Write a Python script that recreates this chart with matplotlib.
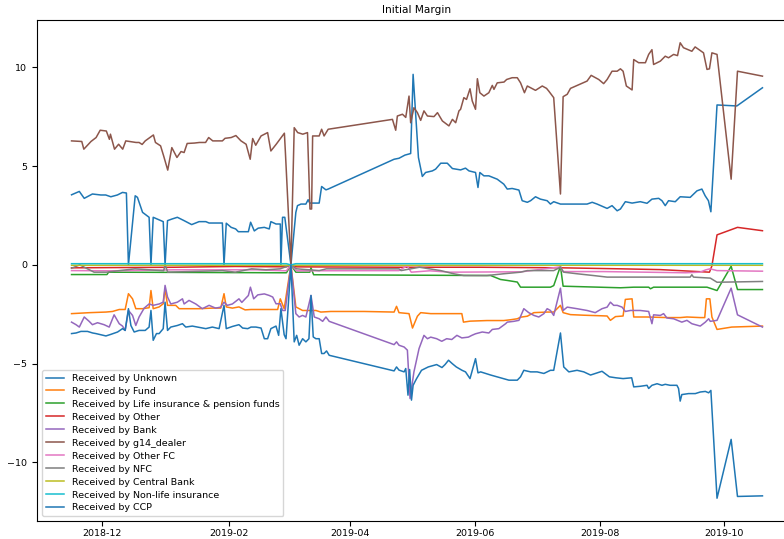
import matplotlib
matplotlib.use("Agg")
import matplotlib.pyplot as plt
import matplotlib.dates as mdates
import pandas as pd

START = "2018-11-16"

unknown_days = [0, 3.8, 6.2, 10.2, 14.3, 16.7, 19.2, 22.4, 24.9, 26.8, 27.8, 31.1, 32.2, 34.7, 37.9, 38.8, 39.9,
                44.8, 45.7, 46.9, 49, 51.7, 55, 58.7, 62.3, 65.6, 67.2, 73.7, 74.5, 75.6, 78, 80.2, 81.5, 86.4,
                87.5, 89.3, 91.2, 94.2, 96.6, 97.4, 99.9, 102, 102.3, 103.1, 104.2, 107.2, 109.6, 110.4, 112.1,
                114.5, 115.6, 116.4, 121, 122.2, 124.3, 125.4, 157.6, 160, 162.9, 165.7, 166.9, 169.5, 171.4,
                173, 176.3, 177.9, 180.4, 183.6, 186.1, 190.1, 192.5, 194.2, 197.4, 198.6, 199.5, 201.5, 203.9,
                208, 211.2, 212.9, 215.3, 218.6, 220.2, 222.7, 224.3, 226.7, 229.1, 232.4, 234, 235.6, 238.9,
                245.4, 251.9, 254.4, 256.8, 261.7, 264.1, 266.6, 268.2, 270.6, 273.9, 277.9, 281.2, 283.6,
                286.9, 288.5, 290.1, 291.7, 295, 297.4, 302.3, 305.6, 308, 309.6, 311.2, 312.4, 315.4, 325.1,
                337.6]
unknown_vals = [3.55, 3.72, 3.37, 3.59, 3.54, 3.54, 3.45, 3.54, 3.67, 3.64, 0.0, 3.5, 3.42, 2.66, 2.41, 0.0, 2.41,
                2.19, 0.0, 2.24, 2.32, 2.41, 2.24, 2.04, 2.19, 2.19, 2.12, 2.12, 0.0, 2.11, 1.9, 1.82, 1.68, 1.68,
                2.16, 1.72, 1.86, 1.9, 1.82, 2.19, 2.07, 2.07, 0.0, 2.41, 2.41, 0.0, 2.66, 3.0, 3.08,
                3.08, 3.3, 3.13, 3.13, 3.97, 3.8, 3.84, 5.35, 5.4, 5.56, 5.64, 9.65, 5.44, 4.48,
                4.68, 4.76, 4.85, 5.15, 5.15, 4.88, 4.81, 4.9, 4.76, 4.68, 3.92, 4.68, 4.51, 4.51,
                4.34, 4.09, 3.84, 3.87, 3.79, 3.25, 3.17, 3.25, 3.45, 3.33, 3.25, 3.08, 3.2, 3.08,
                3.08, 3.08, 3.17, 3.08, 2.86, 3.0, 2.74, 2.83, 3.2, 3.13, 3.2, 3.12, 3.33,
                3.37, 3.25, 3.0, 3.25, 3.2, 3.45, 3.42, 3.75, 3.84, 3.5, 3.25, 2.69, 8.1, 8.05,
                8.97]

fund_days = [0, 8.9, 16.8, 20, 23.3, 26.2, 27.8, 29.8, 31.4, 34.7, 37.9, 38.8, 39.9, 42.8, 44.8, 45.7, 46.9,
             50.9, 52.6, 62.3, 68.8, 72.9, 74.5, 75.6, 78.6, 81.8, 84.8, 87.7, 94.2, 100.7, 102, 103.9, 107.2,
             109.6, 112.9, 116.9, 119.4, 121.8, 126.7, 143, 157.6, 158.8, 160, 164.9, 166.6, 169, 170.6, 175.5,
             188.3, 190.7, 191.5, 194.8, 203, 211.2, 214.5, 217.8, 219.4, 222.7, 225.9, 232.4, 235.6, 238.9,
             240.2, 243.8, 250.3, 259.2, 261.7, 263.3, 265.8, 269.5, 270.6, 273.9, 274.7, 281.2, 291, 297.4,
             300.7, 307.2, 309.4, 310.2, 311.9, 312.9, 315.4, 322.6, 337.6]
fund_vals = [-2.47, -2.42, -2.39, -2.36, -2.26, -2.26, -1.46, -1.72, -2.22, -2.22, -2.17, -1.3, -2.22, -2.13, -1.97,
             -1.21, -2.05, -2.05, -2.22, -2.22, -2.19, -2.19, -1.46, -2.13, -2.19, -2.13, -2.28, -2.26, -2.26,
             -2.26, -1.72, -2.22, 0.0, -2.13, -2.31, -2.31, -2.31, -2.39, -2.36, -2.36, -2.39, -2.1, -2.42,
             -2.47, -3.2, -2.6, -2.42, -2.47, -2.47, -2.47, -2.9, -2.85, -2.82, -2.82, -2.78, -2.73, -2.65,
             -2.6, -2.42, -2.39, -2.39, -2.05, -2.42, -2.52, -2.55, -2.58, -2.59, -2.81, -2.62, -2.59, -1.75,
             -1.72, -2.64, -2.64, -2.67, -2.67, -2.64, -2.67, -2.67, -1.72, -1.72, -2.64, -3.27, -3.15, -3.1]

life_days = [0, 17.3, 18.1, 105, 107.2, 109.6, 116.4, 117, 118.3, 204.8, 209.6, 213, 217.8, 219.4, 234, 235.6,
             238.9, 240.2, 268.2, 274.7, 282, 282.9, 284.4, 310.5, 315.4, 322.3, 325.4, 337.6]
life_vals = [-0.49, -0.49, -0.37, -0.4, 0.0, -0.37, -0.37, -0.15, -0.5, -0.54, -0.74, -0.79, -0.87, -1.13, -1.13,
             -1.05, -0.07, -1.08, -1.16, -1.13, -1.13, -1.21, -1.13, -1.13, -1.3, -0.07, -1.25, -1.25]

other_days = [0, 50, 80, 105, 107.2, 110, 160, 200, 240, 268, 287.7, 311.7, 312.9, 315.4, 325.4, 337.6]
other_vals = [-0.15, -0.12, -0.08, -0.1, 0.0, -0.1, -0.12, -0.12, -0.15, -0.2, -0.24, -0.37, -0.05, 1.52, 1.9,
              1.73]

bank_days = [0, 2.2, 3.8, 6.2, 8.6, 10.2, 12.7, 15.9, 18.4, 20.8, 23.3, 24.9, 26.2, 27.8, 29.8, 31.4, 33, 35.5,
             37.9, 39.9, 42.8, 44.8, 45.7, 46.9, 48.5, 51.7, 54.2, 55, 57.4, 60.7, 63.9, 67.2, 70.4, 72.9, 74.5,
             76.1, 78.6, 81.8, 83.2, 86.4, 87.4, 89, 91, 94.2, 96.6, 98.3, 99.9, 102, 103.1, 104.4, 107.2,
             109.6, 111.2, 112.9, 114.5, 117, 118.6, 121, 122.7, 124.3, 125.9, 157.6, 158.8, 160, 162.5,
             164.1, 165.4, 167.3, 169.8, 172.2, 173.9, 175.5, 178.4, 180.9, 183.3, 185.8, 188.3, 190.7,
             193.9, 195.6, 197.4, 200.7, 203.9, 205.6, 208.8, 212.1, 212.9, 216.1, 218.6, 221, 223.4, 225.9,
             228.3, 230.8, 232.4, 234, 235.6, 238.9, 240.2, 242.2, 247, 251.9, 255.9, 259.2, 261.7, 263.3,
             264.9, 266.6, 269, 270.6, 273.1, 277.9, 282, 283.6, 284.4, 287.7, 289.3, 290.9, 294.2, 298.2,
             300.7, 303.1, 307.2, 309.7, 311.3, 312.1, 315.4, 322.3, 325.4, 337.6]
bank_vals = [-2.9, -3.03, -3.15, -2.64, -2.86, -3.03, -2.93, -3.03, -3.15, -2.53, -2.98, -3.1, -3.32, -2.31, -2.56,
             -3.07, -2.64, -2.19, -1.98, -2.05, -1.98, -1.89, -1.04, -1.63, -1.98, -1.89, -1.72, -1.98, -1.8,
             -1.98, -2.22, -2.05, -2.19, -2.14, -1.89, -2.05, -1.98, -1.72, -1.9, -1.55, -1.13, -1.72, -1.52,
             -1.47, -1.55, -1.63, -1.97, -1.97, -2.31, -2.31, 0.0, -2.47, -2.64, -2.56, -2.64, -1.55, -2.64,
             -2.73, -2.86, -2.64, -2.86, -4.04, -3.9, -4.07, -4.16, -4.32, -6.77, -5.42, -4.24, -3.57, -3.74,
             -3.66, -3.74, -3.87, -3.74, -3.78, -3.57, -3.7, -3.66, -3.57, -3.49, -3.4, -3.45, -3.27, -3.23,
             -2.98, -2.9, -2.86, -2.81, -2.22, -2.42, -2.56, -2.64, -2.47, -2.22, -2.31, -2.56, -1.18, -2.31,
             -2.14, -2.22, -2.31, -2.42, -2.22, -2.14, -1.89, -2.05, -2.05, -2.14, -2.36, -2.31, -2.31, -2.36,
             -2.98, -2.53, -2.56, -2.47, -2.69, -2.73, -2.9, -2.81, -2.98, -3.1, -2.9, -2.73, -2.86, -2.81,
             -1.18, -2.53, -3.15]

g14_days = [0, 5, 6, 9.5, 12, 14, 17, 18.5, 19, 21, 23, 25, 26.5, 31.5, 33, 34.5, 36, 40, 41, 43.5, 45, 47, 49,
            51.5, 53.5, 55, 56.5, 60, 62.5, 65.5, 67, 69, 73.7, 75, 78, 80.3, 82.8, 85.3, 87.3, 88.5, 90, 92.6,
            95.8, 97.4, 100, 104, 104.5, 107.2, 108.8, 110.5, 113, 115.3, 116.5, 117.3, 117.8, 121, 122.2,
            123.4, 125.4, 156.8, 158.4, 159.2, 161.7, 163.3, 164.9, 165.7, 167.3, 169, 170.6, 172.2, 173.9,
            177.1, 178.8, 181.2, 184.4, 186.1, 187.7, 189.3, 190.1, 191.7, 193, 194.7, 195.8, 197.4, 198.3,
            199.5, 201.5, 203.9, 205.6, 206.4, 208, 211.3, 212.6, 215.3, 217.8, 219.4, 221.3, 222.7, 226.7,
            230, 232.1, 233.2, 235.6, 238.9, 240.2, 242.2, 243.8, 251.9, 253.9, 257.6, 260, 261.7, 264.1,
            266.6, 268.2, 269.5, 271.1, 273.9, 274.7, 277.1, 280.4, 282, 283.6, 284.4, 287.7, 290.1, 291.7,
            294.2, 296.1, 297.4, 299, 303.1, 304.7, 308.8, 310.5, 311.7, 312.9, 315.4, 322.3, 325.4, 337.6]
g14_vals = [6.28, 6.25, 5.86, 6.25, 6.45, 6.82, 6.78, 6.36, 6.62, 5.86, 6.11, 5.86, 6.28, 6.2, 6.2, 6.1, 6.28,
            6.58, 6.2, 6.03, 5.52, 4.8, 5.94, 5.44, 5.74, 5.69, 6.15, 6.17, 6.2, 6.2, 6.45, 6.28, 6.28, 6.41,
            6.45, 6.55, 6.28, 6.11, 5.35, 6.4, 6.06, 6.53, 6.7, 5.77, 6.11, 6.67, 5.69, 0.0, 6.95, 6.7, 6.62,
            6.7, 2.83, 2.83, 6.53, 6.53, 6.87, 6.53, 6.87, 7.37, 6.82, 7.54, 7.63, 7.47, 8.55, 7.2, 7.96, 7.71,
            7.32, 7.8, 7.54, 7.51, 7.71, 7.29, 7.04, 7.37, 7.2, 7.8, 7.88, 8.47, 8.38, 8.92, 8.3, 7.88, 9.43,
            8.72, 8.55, 8.72, 9.09, 8.89, 9.22, 9.26, 9.39, 9.48, 9.48, 9.22, 8.72, 9.06, 8.84, 9.06, 8.94,
            8.8, 8.47, 3.59, 8.52, 8.64, 8.94, 9.31, 9.6, 9.39, 9.18, 9.39, 9.81, 9.81, 9.93, 9.81, 9.06,
            8.86, 10.4, 10.24, 10.24, 10.66, 10.9, 10.15, 10.32, 10.57, 10.49, 10.66, 10.6, 11.25, 11.0,
            10.82, 11.04, 10.74, 9.9, 9.93, 10.74, 10.66, 4.34, 9.81, 9.56]

otherfc_days = [0, 20, 50, 90, 105, 107.2, 110, 160, 164, 166, 175, 185, 220, 238.9, 240, 260, 300, 307, 310,
                312, 315.4, 337.6]
otherfc_vals = [-0.29, -0.3, -0.25, -0.25, -0.3, 0.0, -0.3, -0.29, -0.05, -0.37, -0.3, -0.37, -0.35, -0.1,
                -0.34, -0.34, -0.4, -0.37, -0.25, -0.2, -0.29, -0.32]

nfc_days = [0, 4, 11, 17, 31, 45, 45.7, 47, 73.7, 80, 88, 95, 102, 107.2, 110, 121, 124.5, 160, 161, 170, 180.4,
            186.7, 191.6, 203, 211.2, 219.4, 222.7, 235.6, 238.9, 240.5, 247, 255, 261.7, 302.3, 303.1, 303.9,
            312.1, 315.4, 337.6]
nfc_vals = [-0.17, 0.0, -0.37, -0.37, -0.2, -0.3, 0.0, -0.37, -0.29, -0.37, -0.2, -0.25, -0.2, 0.0, -0.2, -0.29,
            -0.2, -0.2, -0.29, -0.12, -0.29, -0.45, -0.54, -0.54, -0.45, -0.37, -0.29, -0.29, -0.12, -0.37,
            -0.45, -0.54, -0.62, -0.62, -0.5, -0.62, -0.67, -0.88, -0.84]

central_days = [0, 105, 107.2, 109.6, 337.6]
central_vals = [-0.02, -0.02, 0.0, -0.02, -0.02]

nonlife_days = [0, 105, 107.2, 109.6, 337.6]
nonlife_vals = [0.06, 0.06, 0.0, 0.06, 0.06]

ccp_days = [0, 2.2, 4.6, 7.8, 10.3, 11.9, 13.5, 16.8, 19.2, 22.5, 24.9, 26.2, 27.8, 29, 30.6, 33, 36, 37.9, 38.8,
            39.9, 41.5, 42.8, 44.8, 45.7, 46.9, 48.5, 51.7, 54.2, 55.8, 59, 61.5, 65.6, 68.8, 72.1, 74.5, 75.6,
            78.6, 81.8, 83.6, 86.1, 87.7, 90.1, 92.6, 94.2, 95.8, 97.4, 99.9, 101.2, 102.3, 103.9, 104.8, 107.2,
            108.8, 110, 111.2, 112.9, 114.5, 116, 117, 118.1, 119.4, 121, 122.2, 123.4, 124.6, 125.9, 157.6,
            158.8, 160, 162.5, 163.3, 164.4, 165.2, 166.1, 166.9, 168.6, 171, 174.3, 176.7, 178.4, 181, 182.5,
            184.2, 186, 188, 190.8, 192.5, 194.7, 197.4, 198.6, 199.9, 202.3, 204.8, 209.7, 213.7, 217.8,
            219.4, 221, 224.3, 227.5, 230.8, 234, 235.6, 238.9, 240.5, 243, 247, 250.3, 253.6, 259.2, 262.8,
            266, 269.5, 273.7, 274.7, 277.9, 281.2, 282, 283.6, 286.1, 288.5, 290.1, 292.5, 295.8, 296.6,
            297.4, 298.2, 301.5, 304.8, 307.2, 309.7, 311.3, 312.4, 315.4, 322.3, 325.4, 337.6]
ccp_vals = [-3.48, -3.45, -3.37, -3.37, -3.45, -3.48, -3.52, -3.6, -3.52, -3.4, -3.23, -3.32, -2.22, -3.07, -3.4,
            -3.32, -3.32, -3.15, -2.31, -3.82, -3.48, -3.48, -3.23, -1.89, -3.32, -3.15, -3.07, -2.98, -3.15,
            -3.1, -3.15, -3.23, -3.15, -3.23, -2.05, -3.23, -3.12, -3.03, -3.2, -3.23, -3.15, -3.15, -3.2,
            -3.74, -3.74, -3.23, -3.1, -3.57, -2.22, -3.54, -3.74, 0.0, -3.9, -3.57, -4.07, -3.74, -3.9, -3.74,
            -1.55, -3.65, -3.74, -3.74, -4.49, -4.49, -4.36, -4.58, -5.37, -5.17, -5.33, -5.42, -5.25, -6.6,
            -5.3, -6.85, -6.1, -5.76, -5.34, -5.17, -5.1, -5.05, -5.2, -5.05, -4.83, -5.0, -5.17, -5.34, -5.42,
            -5.76, -4.75, -5.47, -5.42, -5.5, -5.58, -5.72, -5.84, -5.84, -5.67, -5.34, -5.42, -5.42, -5.5,
            -5.34, -5.34, -3.45, -5.17, -5.42, -5.34, -5.42, -5.58, -5.39, -5.67, -5.72, -5.76, -5.72, -6.18,
            -6.15, -6.1, -6.26, -6.1, -6.02, -6.1, -6.05, -6.1, -6.1, -6.26, -6.9, -6.57, -6.52, -6.52, -6.44,
            -6.41, -6.48, -6.36, -11.82, -8.84, -11.73, -11.7]

series = [
    ("Received by Unknown", unknown_days, unknown_vals),
    ("Received by Fund", fund_days, fund_vals),
    ("Received by Life insurance & pension funds", life_days, life_vals),
    ("Received by Other", other_days, other_vals),
    ("Received by Bank", bank_days, bank_vals),
    ("Received by g14_dealer", g14_days, g14_vals),
    ("Received by Other FC", otherfc_days, otherfc_vals),
    ("Received by NFC", nfc_days, nfc_vals),
    ("Received by Central Bank", central_days, central_vals),
    ("Received by Non-life insurance", nonlife_days, nonlife_vals),
    ("Received by CCP", ccp_days, ccp_vals),
]

FS = 6.8
plt.rcParams["font.family"] = ["DejaVu Sans"]
plt.rcParams["font.size"] = FS

fig = plt.figure(figsize=(7.84, 5.39), dpi=100)
ax = fig.add_axes([37 / 784, 18 / 539, 760 / 784, 501 / 539])

start = pd.Timestamp(START)
for label, days, vals in series:
    dates = start + pd.to_timedelta(days, unit="D")
    ax.plot(dates, vals, label=label, linewidth=1.1)

ax.xaxis.set_major_locator(mdates.MonthLocator(bymonth=[2, 4, 6, 8, 10, 12]))
ax.xaxis.set_major_formatter(mdates.DateFormatter("%Y-%m"))
ax.set_yticks([-10, -5, 0, 5, 10])
ax.tick_params(labelsize=FS, length=3.5, width=0.8)
ax.tick_params(axis="x", pad=2.5)
ax.set_title("Initial Margin", fontsize=7.6, pad=5)
ax.legend(loc="lower left", fontsize=FS, labelspacing=0.42)

fig.savefig("out.png", dpi=100)
